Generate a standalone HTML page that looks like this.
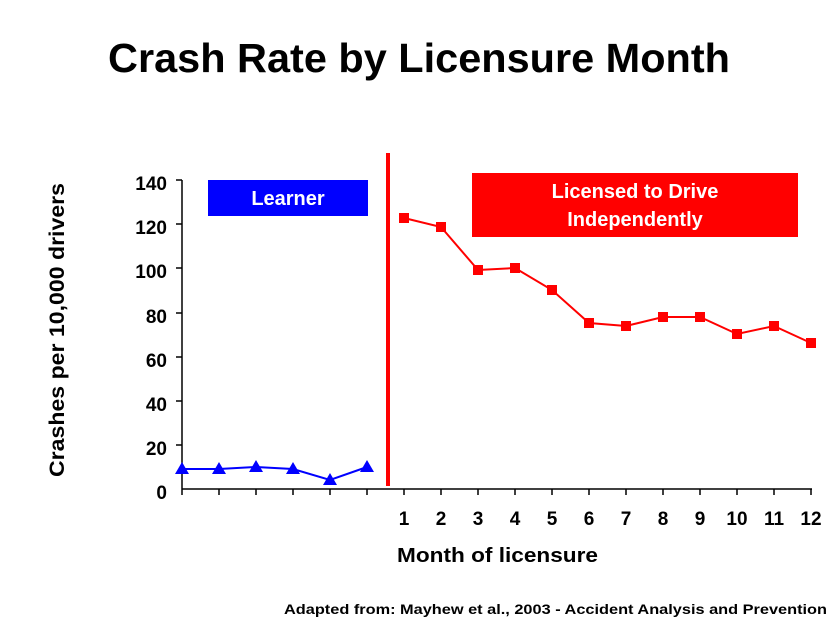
<!DOCTYPE html>
<html><head><style>body{margin:0;background:#fff}svg{display:block}</style></head><body>
<svg width="833" height="625" xmlns="http://www.w3.org/2000/svg" font-family="Liberation Sans, Arial, sans-serif" font-weight="bold">
<rect width="833" height="625" fill="#fff"/>
<text x="108" y="72" font-size="41" textLength="622" lengthAdjust="spacingAndGlyphs">Crash Rate by Licensure Month</text>
<g stroke="#000" stroke-width="1.5">
<line x1="182" y1="180" x2="182" y2="489"/>
<line x1="182" y1="489" x2="812" y2="489"/>
<line x1="176" y1="180" x2="182" y2="180"/><line x1="176" y1="224" x2="182" y2="224"/><line x1="176" y1="268" x2="182" y2="268"/><line x1="176" y1="313" x2="182" y2="313"/><line x1="176" y1="357" x2="182" y2="357"/><line x1="176" y1="401" x2="182" y2="401"/><line x1="176" y1="445" x2="182" y2="445"/>
<path d="M182 489v6M219 489v6M256 489v6M293 489v6M330 489v6M367 489v6M404 489v6M441 489v6M478 489v6M515 489v6M552 489v6M589 489v6M626 489v6M663 489v6M700 489v6M737 489v6M774 489v6M811 489v6"/>
</g>
<g font-size="19" text-anchor="end">
<text x="167" y="190">140</text><text x="167" y="234">120</text><text x="167" y="278">100</text><text x="167" y="323">80</text><text x="167" y="367">60</text><text x="167" y="411">40</text><text x="167" y="455">20</text><text x="167" y="499">0</text>
</g>
<g font-size="19" text-anchor="middle">
<text x="404" y="525">1</text><text x="441" y="525">2</text><text x="478" y="525">3</text><text x="515" y="525">4</text><text x="552" y="525">5</text><text x="589" y="525">6</text><text x="626" y="525">7</text><text x="663" y="525">8</text><text x="700" y="525">9</text><text x="737" y="525">10</text><text x="774" y="525">11</text><text x="811" y="525">12</text>
</g>
<text x="397" y="562" font-size="20" textLength="201" lengthAdjust="spacingAndGlyphs">Month of licensure</text>
<text transform="translate(64,477) rotate(-90)" font-size="21" textLength="294" lengthAdjust="spacingAndGlyphs">Crashes per 10,000 drivers</text>
<text x="284" y="614" font-size="14" textLength="543" lengthAdjust="spacingAndGlyphs">Adapted from:  Mayhew et al., 2003 - Accident Analysis and Prevention</text>
<rect x="208" y="180" width="160" height="36" fill="#0000ff"/>
<text x="288" y="205" font-size="20" fill="#fff" text-anchor="middle">Learner</text>
<rect x="472" y="173" width="326" height="64" fill="#ff0000"/>
<text x="635" y="198" font-size="20" fill="#fff" text-anchor="middle">Licensed to Drive</text>
<text x="635" y="226" font-size="20" fill="#fff" text-anchor="middle">Independently</text>
<rect x="386" y="153" width="4" height="333" fill="#ff0000"/>
<polyline fill="none" stroke="#0000ff" stroke-width="2" points="182,469 219,469 256,467 293,469 330,480 367,467"/>
<g fill="#0000ff">
<path d="M182 462l7 12h-14z"/><path d="M219 462l7 12h-14z"/><path d="M256 460l7 12h-14z"/><path d="M293 462l7 12h-14z"/><path d="M330 473l7 12h-14z"/><path d="M367 460l7 12h-14z"/>
</g>
<polyline fill="none" stroke="#ff0000" stroke-width="2" points="404,218 441,227 478,270 515,268 552,290 589,323 626,326 663,317 700,317 737,334 774,326 811,343"/>
<g fill="#ff0000">
<rect x="399" y="213" width="10" height="10"/><rect x="436" y="222" width="10" height="10"/><rect x="473" y="265" width="10" height="10"/><rect x="510" y="263" width="10" height="10"/><rect x="547" y="285" width="10" height="10"/><rect x="584" y="318" width="10" height="10"/><rect x="621" y="321" width="10" height="10"/><rect x="658" y="312" width="10" height="10"/><rect x="695" y="312" width="10" height="10"/><rect x="732" y="329" width="10" height="10"/><rect x="769" y="321" width="10" height="10"/><rect x="806" y="338" width="10" height="10"/>
</g>
</svg>
</body></html>
